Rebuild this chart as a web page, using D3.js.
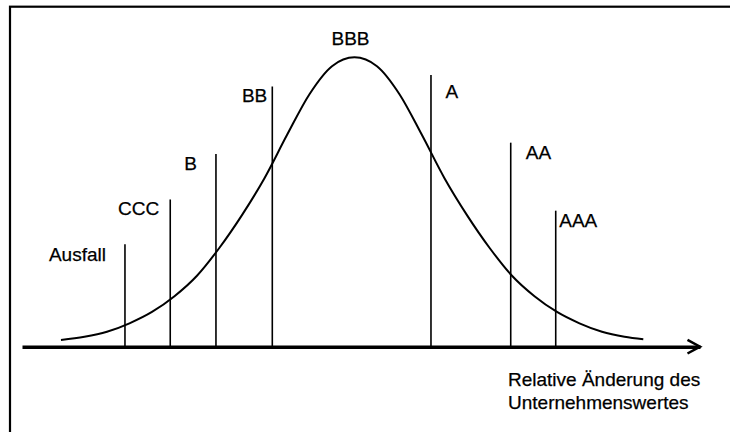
<!DOCTYPE html>
<html>
<head>
<meta charset="utf-8">
<script src="https://cdn.jsdelivr.net/npm/d3@7"></script>
<style>
    body { margin: 0; background: #fff; }
    svg { display: block; font-family: Arial, "Liberation Sans", sans-serif; }
</style>
</head>
<body>
<div id="chart"></div>
<script>
// Distribution of the relative change in firm value (x in std units, y density)
const curveX = [-3.261, -3.0, -2.75, -2.5, -2.25, -2.0, -1.75, -1.5, -1.25, -1.0, -0.75, -0.5, -0.25, 0,
    0.25, 0.5, 0.75, 1.0, 1.25, 1.5, 1.75, 2.0, 2.25, 2.5, 2.75, 3.0, 3.209];
const curveY = [0.0094, 0.0137, 0.0206, 0.0323, 0.048, 0.0698, 0.0981, 0.1368, 0.1819, 0.2329, 0.2925, 0.349, 0.3877, 0.4,
    0.3877, 0.349, 0.2925, 0.2329, 0.1819, 0.1368, 0.0981, 0.0698, 0.048, 0.0323, 0.0206, 0.0137, 0.0102];

// Rating thresholds
const ratings = ['Ausfall', 'CCC', 'B', 'BB', 'A', 'AA', 'AAA'];
const thresholdX = [-2.55, -2.047, -1.539, -0.913, 0.85, 1.736, 2.236];
const thresholdTop = [0.1415, 0.2035, 0.2663, 0.3596, 0.3755, 0.282, 0.188];

const peakLabel = 'BBB';
const axisLabel = ['Relative Änderung des', 'Unternehmenswertes'];

// Label placement relative to the top of each line (layout only)
const labelLayout = {
    'Ausfall': { anchor: 'end', dx: -19, dy: 17 },
    'CCC': { anchor: 'end', dx: -11, dy: 15.5 },
    'B': { anchor: 'end', dx: -19, dy: 16 },
    'BB': { anchor: 'end', dx: -5, dy: 15 },
    'A': { anchor: 'start', dx: 14.5, dy: 23.3 },
    'AA': { anchor: 'start', dx: 15, dy: 16.6 },
    'AAA': { anchor: 'start', dx: 3.5, dy: 16.3 }
};

const width = 730;
const height = 432;

const svg = d3.select('#chart')
    .append('svg')
    .attr('width', width)
    .attr('height', height);

svg.append('rect')
    .attr('width', width)
    .attr('height', height)
    .attr('fill', '#fff');

// outer frame (right and bottom edges fall outside the picture)
svg.append('rect')
    .attr('x', 10)
    .attr('y', 6.7)
    .attr('width', 760)
    .attr('height', 460)
    .attr('fill', 'none')
    .attr('stroke', '#000')
    .attr('stroke-width', 2.2);

const xScale = d3.scaleLinear()
    .domain([-3.694, 3.839])
    .range([22, 700]);

const yScale = d3.scaleLinear()
    .domain([0, 0.4])
    .range([346.7, 57.3]);

// x axis without ticks
const axisG = svg.append('g')
    .attr('transform', `translate(0,${yScale(0)})`)
    .call(d3.axisBottom(xScale).tickValues([]).tickSizeOuter(0));

axisG.select('.domain')
    .attr('stroke', '#000')
    .attr('stroke-width', 3.5);

// arrow head
const tipX = xScale.range()[1];
svg.append('path')
    .attr('d', `M${tipX - 12.5},${yScale(0) - 6.8}L${tipX},${yScale(0)}L${tipX - 12.5},${yScale(0) + 6.8}`)
    .attr('fill', 'none')
    .attr('stroke', '#000')
    .attr('stroke-width', 2.5);

// threshold lines
svg.selectAll('.threshold')
    .data(ratings)
    .enter()
    .append('line')
    .attr('class', 'threshold')
    .attr('x1', (d, i) => xScale(thresholdX[i]))
    .attr('x2', (d, i) => xScale(thresholdX[i]))
    .attr('y1', yScale(0))
    .attr('y2', (d, i) => yScale(thresholdTop[i]))
    .attr('stroke', '#000')
    .attr('stroke-width', 1.6);

// density curve
const points = curveX.map((x, i) => [x, curveY[i]]);
const line = d3.line()
    .x(d => xScale(d[0]))
    .y(d => yScale(d[1]))
    .curve(d3.curveMonotoneX);

svg.append('path')
    .datum(points)
    .attr('d', line)
    .attr('fill', 'none')
    .attr('stroke', '#000')
    .attr('stroke-width', 2);

// rating labels
svg.selectAll('.rating-label')
    .data(ratings)
    .enter()
    .append('text')
    .attr('class', 'rating-label')
    .attr('x', (d, i) => xScale(thresholdX[i]) + labelLayout[d].dx)
    .attr('y', (d, i) => yScale(thresholdTop[i]) + labelLayout[d].dy)
    .attr('text-anchor', d => labelLayout[d].anchor)
    .style('font-size', '19px')
    .style('stroke', '#000')
    .style('stroke-width', 0.25)
    .text(d => d);

const peakIdx = curveY.indexOf(d3.max(curveY));
svg.append('text')
    .attr('x', xScale(curveX[peakIdx]) - 4)
    .attr('y', yScale(curveY[peakIdx]) - 12.5)
    .attr('text-anchor', 'middle')
    .style('font-size', '19px')
    .style('stroke', '#000')
    .style('stroke-width', 0.25)
    .text(peakLabel);

// axis title
const title = svg.append('text')
    .attr('x', 508)
    .attr('y', 386)
    .style('font-size', '19px')
    .style('stroke', '#000')
    .style('stroke-width', 0.25);

title.selectAll('tspan')
    .data(axisLabel)
    .enter()
    .append('tspan')
    .attr('x', 508)
    .attr('dy', (d, i) => i === 0 ? 0 : 23.3)
    .text(d => d);
</script>
</body>
</html>
